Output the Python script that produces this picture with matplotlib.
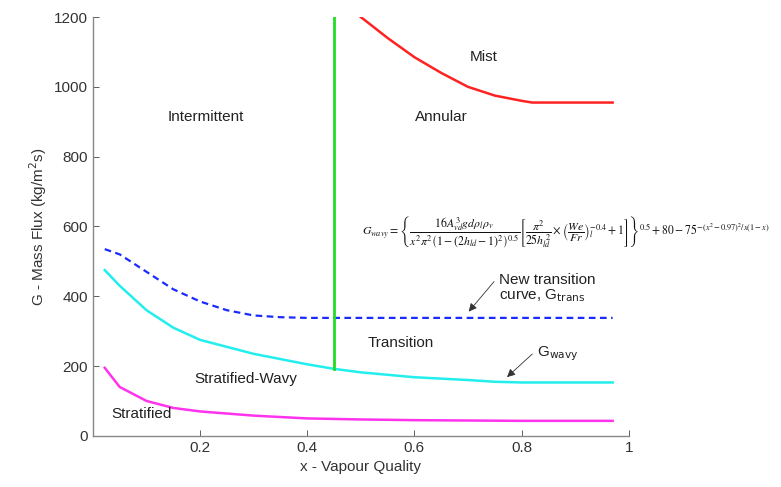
import matplotlib.pyplot as plt

plt.rcParams['font.family'] = ['Liberation Sans', 'DejaVu Sans']

# boundary curves
x_trans = [0.022, 0.05, 0.1, 0.15, 0.2, 0.25, 0.3, 0.35, 0.4, 0.5, 0.6, 0.7, 0.8, 0.9, 0.97]
g_trans = [535, 520, 470, 420, 385, 360, 345, 340, 338, 338, 338, 338, 338, 338, 338]

x_wavy = [0.022, 0.05, 0.1, 0.15, 0.2, 0.3, 0.4, 0.45, 0.5, 0.6, 0.7, 0.75, 0.8, 0.9, 0.97]
g_wavy = [475, 430, 360, 310, 275, 235, 205, 192, 182, 168, 160, 155, 153, 153, 153]

x_strat = [0.022, 0.05, 0.1, 0.15, 0.2, 0.3, 0.4, 0.5, 0.6, 0.7, 0.8, 0.9, 0.97]
g_strat = [195, 140, 100, 80, 70, 58, 50, 47, 45, 44, 43, 43, 43]

x_mist = [0.5, 0.55, 0.6, 0.65, 0.7, 0.75, 0.8, 0.82, 0.9, 0.97]
g_mist = [1200, 1140, 1085, 1040, 1000, 975, 960, 955, 955, 955]

x_ia = 0.45           # intermittent / annular boundary
g_ia = [192, 1200]

regions = ["Intermittent", "Annular", "Mist", "Transition", "Stratified-Wavy", "Stratified"]
region_xy = [(0.21, 915), (0.65, 915), (0.73, 1085), (0.575, 265), (0.285, 163), (0.09, 63)]

fig = plt.figure(figsize=(7.81, 4.87), dpi=100)
ax = fig.add_axes([0.119, 0.105, 0.686, 0.86])

ax.plot(x_trans, g_trans, color='#1a2bff', ls='--', lw=1.6, dashes=(3, 2))
ax.plot(x_wavy, g_wavy, color='#22eeee', lw=1.8)
ax.plot(x_strat, g_strat, color='#ff33ee', lw=1.8)
ax.plot(x_mist, g_mist, color='#ff2222', lw=1.8)
ax.plot([x_ia, x_ia], g_ia, color='#22dd22', lw=2)

for name, (xx, yy) in zip(regions, region_xy):
    ax.text(xx, yy, name, fontsize=11, ha='center', va='center', color='#222222')

ax.text(0.758, 422, "New transition\ncurve, G$_{\\mathsf{trans}}$", fontsize=11,
        ha='left', va='center', color='#222222', linespacing=1.0)
ax.annotate("", xy=(0.698, 350), xytext=(0.752, 448),
            arrowprops=dict(arrowstyle='-|>', color='#333333', lw=0.6, mutation_scale=12))
ax.text(0.828, 236, "G$_{\\mathsf{wavy}}$", fontsize=11, ha='left', va='center', color='#222222')
ax.annotate("", xy=(0.769, 163), xytext=(0.824, 240),
            arrowprops=dict(arrowstyle='-|>', color='#333333', lw=0.6, mutation_scale=12))

formula = (r"$G_{wavy}=\left\{\dfrac{16A_{vd}^{\,3}gd\rho_l\rho_v}"
           r"{x^2\pi^2\left(1-(2h_{ld}-1)^2\right)^{0.5}}"
           r"\left[\dfrac{\pi^2}{25h_{ld}^{\,2}}\times\left(\dfrac{We}{Fr}\right)_l^{-0.4}+1\right]\right\}^{0.5}"
           r"+80-75^{-(x^2-0.97)^2/x(1-x)}$")
ax.text(0.503, 584, formula, fontsize=8.5, ha='left', va='center', color='#111111',
        math_fontfamily='stix', clip_on=False)

ax.set_xlim(0, 1)
ax.set_ylim(0, 1200)
ax.set_xticks([0.2, 0.4, 0.6, 0.8, 1.0])
ax.set_xticklabels(["0.2", "0.4", "0.6", "0.8", "1"])
ax.set_yticks(range(0, 1201, 200))
ax.tick_params(labelsize=11, colors='#444444', direction='in', length=4, width=0.6)
for lab in ax.get_xticklabels() + ax.get_yticklabels():
    lab.set_color('#333333')
ax.spines['top'].set_visible(False)
ax.spines['right'].set_visible(False)
for s in ('left', 'bottom'):
    ax.spines[s].set_color('#888888')
    ax.spines[s].set_linewidth(1.0)

ax.set_xlabel("x - Vapour Quality", fontsize=11, color='#333333')
ax.set_ylabel("G - Mass Flux (kg/m$^2$s)", fontsize=11, color='#333333')

fig.savefig("out.png", dpi=100)
